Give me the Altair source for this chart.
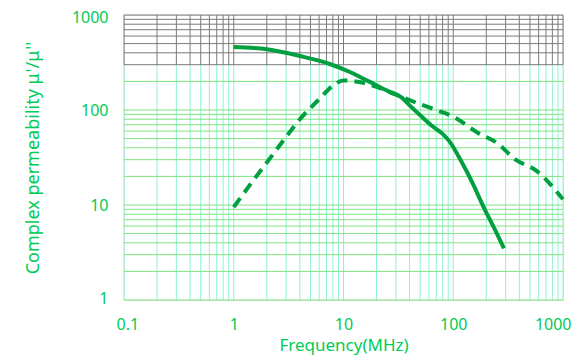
import altair as alt
import pandas as pd

# ---- data ----
freq_real = [1, 2, 4, 7.5, 12, 17, 25, 34, 40, 50, 65, 80, 92, 118, 150, 190, 240, 290]
mu_real = [460, 435, 370, 305, 245, 200, 160, 135, 112, 88, 67, 56, 47, 29, 17, 9.4, 5.5, 3.5]

freq_imag = [1, 1.5, 2, 3, 4, 5, 6, 8, 10, 14, 20, 30, 50, 70, 100, 170, 250, 370, 570, 1000]
mu_imag = [9.5, 18, 28, 52, 80, 105, 130, 180, 205, 197, 175, 145, 115, 100, 85, 57, 45, 30, 23, 11.5]

x_ticks = [0.1, 1, 10, 100, 1000]
y_ticks = [1, 10, 100, 1000]

X_DOMAIN = [0.1, 1000]
Y_DOMAIN = [1, 1000]
GREY_FROM = 300

TEXT = "#00cc55"
LINE = "#00a040"

# log grid values (1..9 per decade)
x_grid = [m * 10.0 ** k for k in range(-1, 3) for m in range(1, 10)] + [1000]
y_grid = [m * 10.0 ** k for k in range(0, 3) for m in range(1, 10)] + [1000]

h_rows = []
for v in y_grid:
    h_rows.append({"x": X_DOMAIN[0], "x2": X_DOMAIN[1], "y": v, "y2": v,
                   "c": "#7a7a7a" if v >= GREY_FROM else "#7fe37f"})
v_rows = []
for v in x_grid:
    v_rows.append({"x": v, "x2": v, "y": Y_DOMAIN[0], "y2": GREY_FROM, "c": "#8ff2d6"})
    v_rows.append({"x": v, "x2": v, "y": GREY_FROM, "y2": Y_DOMAIN[1], "c": "#7a7a7a"})
grid_df = pd.DataFrame(v_rows + h_rows)

xs = alt.Scale(type="log", domain=X_DOMAIN, nice=False)
ys = alt.Scale(type="log", domain=Y_DOMAIN, nice=False)

x_axis = alt.Axis(values=x_ticks, format="~g", grid=False, ticks=False, domain=False,
                  labelFontSize=16, labelColor=TEXT, labelPadding=16, labelFont="Noto Sans",
                  labelFlush=True, labelFlushOffset=8,
                  title="Frequency(MHz)", titleFontSize=17, titleFontWeight="normal",
                  titleColor=TEXT, titleFont="Noto Sans", titleY=45, titleBaseline="middle")
y_axis = alt.Axis(values=y_ticks, format="~g", grid=False, ticks=False, domain=False,
                  labelFontSize=16, labelColor=TEXT, labelPadding=16, labelFont="Noto Sans",
                  labelFlush=True, labelFlushOffset=6,
                  title="Complex permeability μ'/μ''", titleFontSize=18, titleFontWeight="normal",
                  titleColor=TEXT, titleFont="Noto Sans", titleX=-82, titleBaseline="bottom")

grid = alt.Chart(grid_df).mark_rule(strokeWidth=1).encode(
    x=alt.X("x:Q", scale=xs, axis=x_axis),
    x2="x2:Q",
    y=alt.Y("y:Q", scale=ys, axis=y_axis),
    y2="y2:Q",
    color=alt.Color("c:N", scale=None),
)

real_df = pd.DataFrame({"f": freq_real, "mu": mu_real})
imag_df = pd.DataFrame({"f": freq_imag, "mu": mu_imag})

real_line = alt.Chart(real_df).mark_line(color=LINE, strokeWidth=4, interpolate="monotone").encode(
    x=alt.X("f:Q", scale=xs), y=alt.Y("mu:Q", scale=ys))
imag_line = alt.Chart(imag_df).mark_line(color=LINE, strokeWidth=4, strokeDash=[11, 7],
                                         interpolate="monotone").encode(
    x=alt.X("f:Q", scale=xs), y=alt.Y("mu:Q", scale=ys))

chart = alt.layer(grid, real_line, imag_line).properties(
    width=439, height=285,
    autosize=alt.AutoSizeParams(type="none"),
    padding={"left": 116, "top": 7, "right": 12, "bottom": 55},
).configure_view(stroke=None).configure(background="white")

chart.save("out.html", embed_options={"renderer": "svg", "actions": False})
